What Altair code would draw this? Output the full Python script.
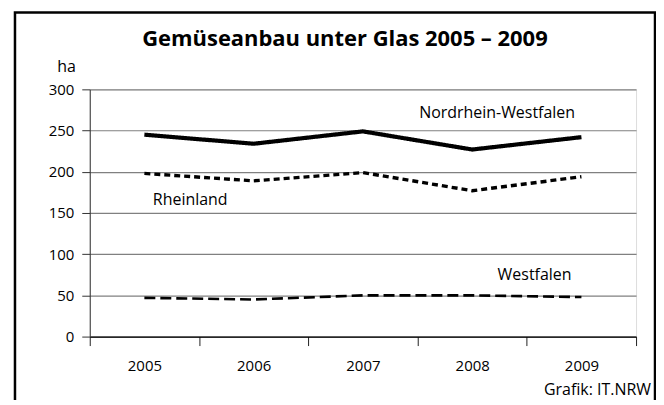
import altair as alt
import pandas as pd

years = [2005, 2006, 2007, 2008, 2009]
nrw = [245, 234, 249, 227, 242]
rheinland = [198, 189, 199, 177, 194]
westfalen = [47, 45, 50, 50, 48]
series_names = ["Nordrhein-Westfalen", "Rheinland", "Westfalen"]
y_ticks = [0, 50, 100, 150, 200, 250, 300]

FONT = "Open Sans"

rows = []
for name, vals in zip(series_names, [nrw, rheinland, westfalen]):
    for yr, v in zip(years, vals):
        rows.append({"Jahr": yr, "ha": v, "Gebiet": name})
df = pd.DataFrame(rows)

x_vals = [2004.5, 2005, 2005.5, 2006, 2006.5, 2007, 2007.5, 2008, 2008.5, 2009, 2009.5]

x_scale = alt.Scale(domain=[2004.5, 2009.5], nice=False, zero=False)
y_scale = alt.Scale(domain=[0, 300], nice=False)

lines = alt.Chart(df).mark_line(strokeCap="butt", strokeJoin="miter").encode(
    x=alt.X("Jahr:Q", scale=x_scale,
            axis=alt.Axis(values=x_vals, title=None, grid=False,
                          labelExpr="datum.value % 1 === 0 ? datum.value : ''",
                          tickOpacity={"condition": {"test": "datum.value % 1 !== 0", "value": 1}, "value": 0},
                          tickSize=9, tickColor="#222", tickWidth=1,
                          domainColor="#000", domainWidth=1.3,
                          labelFont=FONT, labelFontSize=15, labelColor="#000",
                          labelPadding=13, labelFlush=False)),
    y=alt.Y("ha:Q", scale=y_scale,
            axis=alt.Axis(values=y_ticks, title=None, grid=True, gridColor="#808080",
                          gridWidth=1.2, tickSize=8, tickColor="#333",
                          domainColor="#333", domainWidth=1,
                          labelFont=FONT, labelFontSize=15, labelColor="#000",
                          labelPadding=8)),
    color=alt.Color("Gebiet:N", scale=alt.Scale(domain=series_names, range=["#000", "#000", "#000"]), legend=None),
    strokeDash=alt.StrokeDash("Gebiet:N", scale=alt.Scale(domain=series_names, range=[[1, 0], [6, 4], [11, 5]]), legend=None),
    strokeWidth=alt.StrokeWidth("Gebiet:N", scale=alt.Scale(domain=series_names, range=[4.2, 2.6, 3.0]), legend=None),
    detail="Gebiet:N",
)

label_years = [2008, 2005, 2009]
label_values = [265, 160, 69]
label_dx = [25, 46, -47]

label_layers = []
for name, yr, v, dx in zip(series_names, label_years, label_values, label_dx):
    ldf = pd.DataFrame({"Jahr": [yr], "ha": [v], "text": [name]})
    label_layers.append(
        alt.Chart(ldf).mark_text(font=FONT, fontSize=16, color="#000", dx=dx, baseline="alphabetic").encode(
            x=alt.X("Jahr:Q", scale=x_scale),
            y=alt.Y("ha:Q", scale=y_scale),
            text="text:N",
        )
    )

one = pd.DataFrame({"a": [0]})

title = alt.Chart(one).mark_text(font=FONT, fontSize=22, fontWeight="bold", color="#000", baseline="alphabetic").encode(
    x=alt.value(256), y=alt.value(-43), text=alt.value("Gemüseanbau unter Glas 2005 – 2009"))

unit = alt.Chart(one).mark_text(font=FONT, fontSize=16, color="#000", align="right", baseline="alphabetic").encode(
    x=alt.value(-14), y=alt.value(-17), text=alt.value("ha"))

source = alt.Chart(one).mark_text(font=FONT, fontSize=16, color="#000", align="right", baseline="alphabetic").encode(
    x=alt.value(563), y=alt.value(307), text=alt.value("Grafik: IT.NRW"))

frame = alt.Chart(one).mark_rect(fill=None, fillOpacity=0, stroke="#000", strokeWidth=2.5).encode(
    x=alt.value(-75), x2=alt.value(567), y=alt.value(-77), y2=alt.value(340))

chart = alt.layer(frame, lines, *label_layers, title, unit, source).properties(
    width=548, height=248,
    autosize=alt.AutoSizeParams(type="none"),
    padding={"left": 82, "top": 81, "right": 20, "bottom": 63},
).configure_view(stroke=None).configure(background="white")

chart.save("out.html", embed_options={"renderer": "svg", "actions": False})
